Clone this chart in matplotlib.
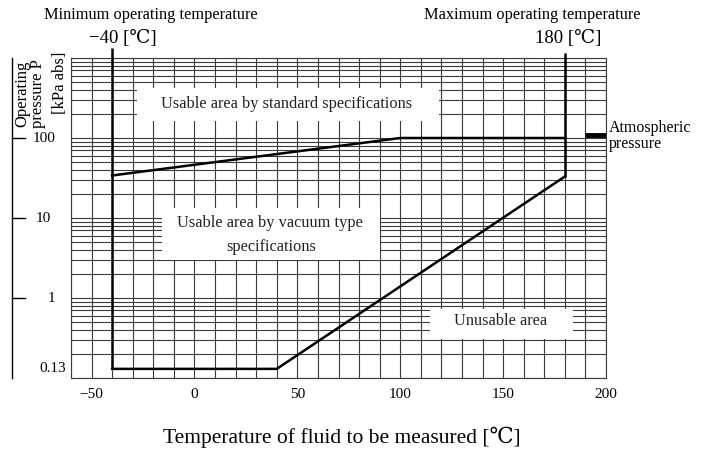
import matplotlib
matplotlib.use("Agg")
import matplotlib.pyplot as plt
import numpy as np
from matplotlib.patches import Rectangle
from matplotlib.transforms import blended_transform_factory

plt.rcParams['font.family'] = ['Liberation Serif', 'DejaVu Serif', 'Noto Sans CJK JP']

# ---- data ----
x_ticks = [-50, 0, 50, 100, 150, 200]
y_labels = ["100", "10", "1", "0.13"]
y_label_vals = [100, 10, 1, 0.13]

min_temp = -40
max_temp = 180

# lower edge of the vacuum-type area
vac_t = [-40, 40, 180]
vac_p = [0.13, 0.13, 33]

# upper edge of the vacuum-type area (standard area above)
std_t = [-40, 100, 180]
std_p = [34, 100, 100]

atm_t = [190, 200]
atm_p = [108, 108]

W, H = 709, 454


def fx(x):
    return x / W


def fy(y):
    return 1 - y / H


fig = plt.figure(figsize=(W / 100, H / 100), dpi=100)
ax = fig.add_axes([fx(71), fy(378), fx(606) - fx(71), fy(58) - fy(378)])

ax.set_xlim(-60, 200)
ax.set_yscale('log')
ax.set_ylim(0.1, 1000)

# log paper grid
grid_c = '#3a3a3a'
for t in np.arange(-60, 201, 10):
    ax.axvline(t, color=grid_c, lw=0.8, zorder=1)
for dec in [0.1, 1, 10, 100]:
    for k in range(1, 10):
        ax.axhline(dec * k, color=grid_c, lw=0.8, zorder=1)
ax.axhline(1000, color=grid_c, lw=0.8, zorder=1)

for s in ax.spines.values():
    s.set_color(grid_c)
    s.set_linewidth(0.8)

ax.set_xticks(x_ticks)
ax.set_xticklabels([str(v).replace('-', '\u2212') for v in x_ticks], fontsize=11)
ax.tick_params(axis='x', length=0, pad=7)
ax.set_yticks([])
ax.yaxis.set_minor_locator(matplotlib.ticker.NullLocator())

# white label boxes
boxes = [(-27.8, 162, 118.6, 419), (-15.7, 2.96, 90.3, 13.2), (114.6, 0.311, 184.1, 0.737)]
for x0, y0, x1, y1 in boxes:
    ax.add_patch(Rectangle((x0, y0), x1 - x0, y1 - y0, facecolor='white',
                           edgecolor='none', zorder=2))

# boundaries
lw = 1.8
ax.plot([min_temp, min_temp], [1320, 0.13], color='black', lw=lw, zorder=3,
        clip_on=False, solid_capstyle='butt')
ax.plot([max_temp, max_temp], [33, 1150], color='black', lw=lw, zorder=3,
        clip_on=False, solid_capstyle='butt')
ax.plot(vac_t, vac_p, color='black', lw=lw, zorder=3)
ax.plot(std_t, std_p, color='black', lw=lw, zorder=3)
ax.plot(atm_t, atm_p, color='black', lw=3.5, zorder=3, solid_capstyle='butt')

# area labels
fs_area = 11.8
ax.text(fx(287), fy(104), "Usable area by standard specifications", transform=fig.transFigure,
        ha='center', va='center', fontsize=fs_area, color='#222222', zorder=4)
ax.text(fx(270), fy(223), "Usable area by vacuum type", transform=fig.transFigure,
        ha='center', va='center', fontsize=fs_area, color='#222222', zorder=4)
ax.text(fx(271), fy(247), "specifications", transform=fig.transFigure,
        ha='center', va='center', fontsize=fs_area, color='#222222', zorder=4)
ax.text(fx(501), fy(321), "Unusable area", transform=fig.transFigure,
        ha='center', va='center', fontsize=fs_area, color='#222222', zorder=4)

fig.text(fx(609), fy(128), "Atmospheric", ha='left', va='center', fontsize=11.5)
fig.text(fx(609), fy(144), "pressure", ha='left', va='center', fontsize=11.5)

# top annotations
fig.text(fx(151), fy(15), "Minimum operating temperature", ha='center', va='center', fontsize=11.8)
fig.text(fx(532), fy(15), "Maximum operating temperature", ha='center', va='center', fontsize=11.8)
fig.text(fx(123), fy(38), "\u221240 [\u2103]", ha='center', va='center', fontsize=13.5)
fig.text(fx(568), fy(38), "180 [\u2103]", ha='center', va='center', fontsize=13.5)

# left pressure axis
tr = blended_transform_factory(fig.transFigure, ax.transData)
ax.plot([fx(12), fx(12)], [0.1, 1000], color='black', lw=1.0, transform=tr, clip_on=False)
label_x = [44, 43.5, 51, 53]
for v, lab, lx in zip(y_label_vals, y_labels, label_x):
    if lab != "0.13":
        ax.plot([fx(12), fx(25)], [v, v], color='black', lw=1.0, transform=tr, clip_on=False)
    ax.text(fx(lx), v, lab, transform=tr, ha='center', va='center', fontsize=11)

fig.text(fx(30), fy(94), "Operating\npressure P", rotation=90, ha='center', va='center',
         fontsize=12, linespacing=0.95, multialignment='center')
fig.text(fx(60), fy(83), "[kPa abs]", rotation=90, ha='center', va='center', fontsize=12)

fig.text(fx(342), fy(437), "Temperature of fluid to be measured [\u2103]", ha='center',
         va='center', fontsize=15.5)

fig.savefig("out.png", dpi=100)
